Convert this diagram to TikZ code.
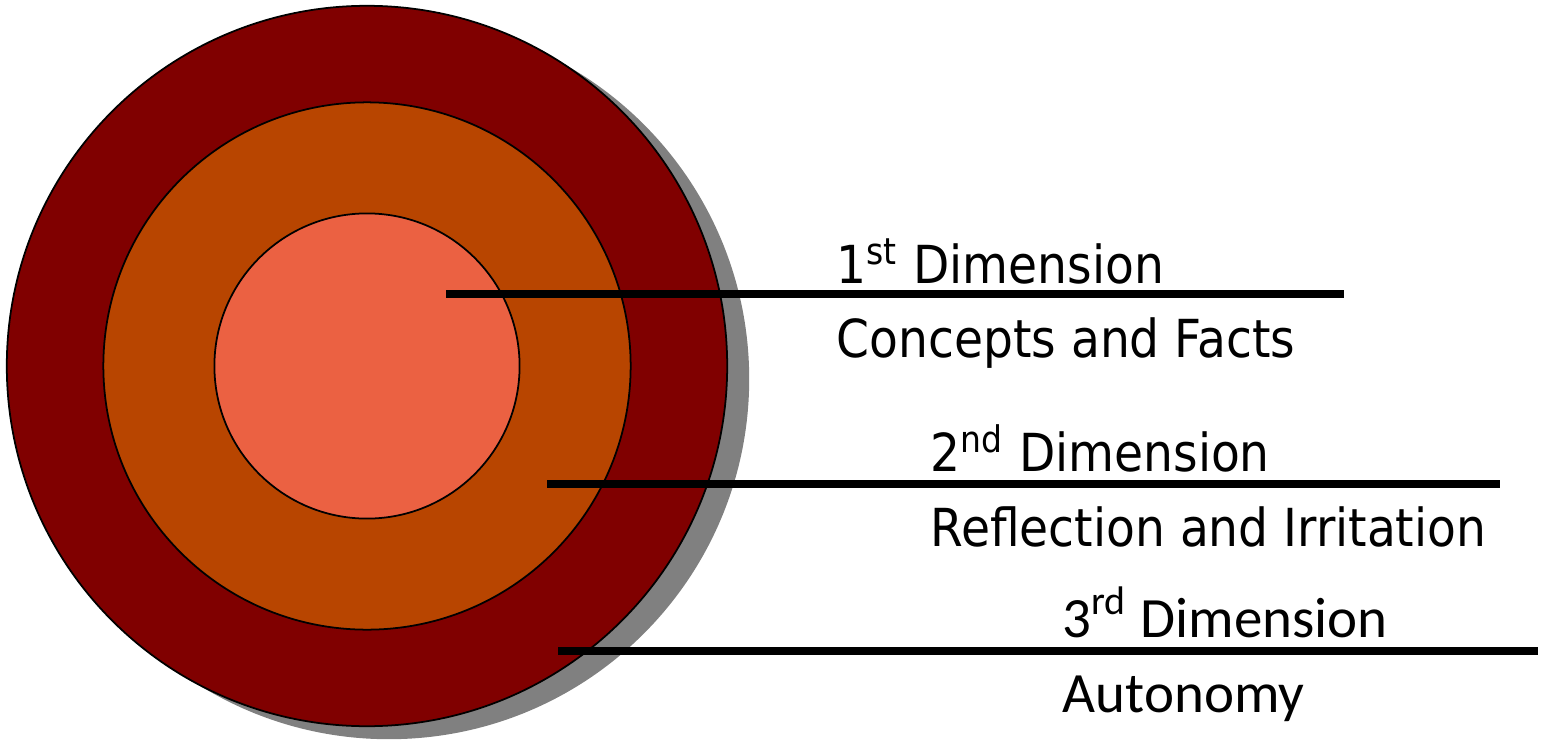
\documentclass[tikz,border=0pt]{standalone}
\usepackage{fontspec}
\newfontfamily\condfont{DejaVu Sans Condensed}
\newfontfamily\calfont{Carlito}
\definecolor{ringouter}{HTML}{800000}
\definecolor{ringmid}{HTML}{B84500}
\definecolor{ringinner}{HTML}{EB6142}
\definecolor{shade}{HTML}{808080}
\begin{document}
\begin{tikzpicture}[x=0.01cm,y=-0.01cm,
  ring/.style={circle,draw=black,line width=0.5pt,inner sep=0pt},
  rule/.style={line width=0.072cm,black},
  lbl/.style={anchor=base west,inner sep=0pt,font=\condfont\fontsize{14.9}{18}\selectfont},
  lblc/.style={anchor=base west,inner sep=0pt,font=\calfont\fontsize{16.2}{19}\selectfont}]
\useasboundingbox (0,0) rectangle (1544,745);
% drop shadow and concentric rings
\node[circle,fill=shade,inner sep=0pt,minimum size=7.2cm] (shadow) at (389,379) {};
\node[ring,fill=ringouter,minimum size=7.2cm] (outer) at (367,366) {};
\node[ring,fill=ringmid,minimum size=5.27cm] (mid) at (367,366) {};
\node[ring,fill=ringinner,minimum size=3.05cm] (inner) at (367,366) {};
% leader rules
\coordinate (a1) at (446,294); \coordinate (b1) at (1344,294);
\coordinate (a2) at (547,484); \coordinate (b2) at (1500,484);
\coordinate (a3) at (558,651); \coordinate (b3) at (1538,651);
\draw[rule] (a1) -- (b1);
\draw[rule] (a2) -- (b2);
\draw[rule] (a3) -- (b3);
% labels
\node[lbl] (t1) at (836,283) {1\textsuperscript{st} Dimension};
\node[lbl] (s1) at (836,357) {Concepts and Facts};
\node[lbl] (t2) at (930,471) {2\textsuperscript{nd} Dimension};
\node[lbl] (s2) at (930,546) {Reflection and Irritation};
\node[lblc] (t3) at (1062,637) {3\textsuperscript{rd} Dimension};
\node[lblc] (s3) at (1062,712) {Autonomy};
\end{tikzpicture}
\end{document}
